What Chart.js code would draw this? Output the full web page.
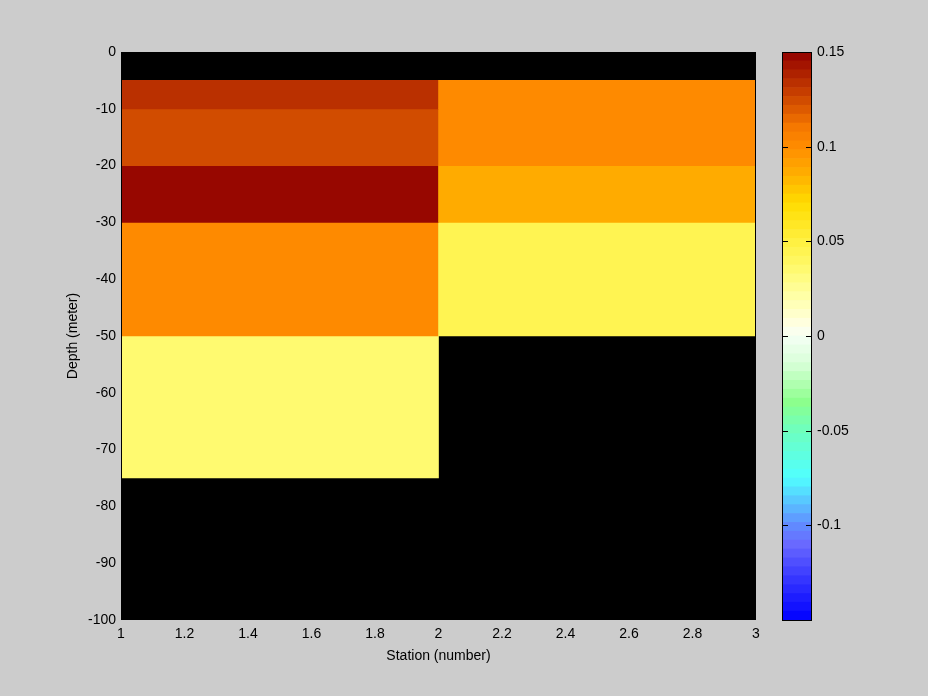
<!DOCTYPE html>
<html><head><meta charset="utf-8">
<script src="https://cdn.jsdelivr.net/npm/chart.js@4.4.0/dist/chart.umd.min.js"></script>
<style>
html,body{margin:0;padding:0;background:#cccccc;}
#wrap{position:relative;width:928px;height:696px;}
canvas{position:absolute;left:0;top:0;}
</style></head><body>
<div id="wrap"><canvas id="main" width="928" height="696"></canvas><canvas id="cbar" width="928" height="696"></canvas></div>
<script>
// ---- data ----
const stationEdges = [1, 2, 3];
const depthEdges = [0, -5, -10, -20, -30, -50, -75, -100];
const station1 = [null, 0.132, 0.122, 0.148, 0.102, 0.035, null];
const station2 = [null, 0.100, 0.100, 0.087, 0.046, null, null];
const xTicks = [1, 1.2, 1.4, 1.6, 1.8, 2, 2.2, 2.4, 2.6, 2.8, 3];
const yTicks = [0, -10, -20, -30, -40, -50, -60, -70, -80, -90, -100];
const cbarTicks = [0.15, 0.1, 0.05, 0, -0.05, -0.1];
const cmin = -0.15, cmax = 0.15, nColors = 64;
const xTitle = 'Station (number)';
const yTitle = 'Depth (meter)';
// colormap anchors (value -> rgb)
const cmapValues = [-0.15, -0.13, -0.11, -0.1, -0.075, -0.05, -0.035, -0.015, 0, 0.005, 0.02, 0.035, 0.05, 0.07, 0.085, 0.1, 0.11, 0.13, 0.15];
const cmapColors = [[0,0,255],[50,50,255],[105,105,255],[96,140,255],[80,255,255],[110,255,190],[140,255,140],[215,255,215],[245,255,245],[255,255,230],[255,255,170],[255,250,112],[255,240,64],[255,220,0],[255,175,0],[255,140,0],[245,120,0],[195,58,0],[145,0,0]];

function interp(v) {
  if (v <= cmapValues[0]) return cmapColors[0];
  for (let i = 1; i < cmapValues.length; i++) {
    if (v <= cmapValues[i]) {
      const f = (v - cmapValues[i-1]) / (cmapValues[i] - cmapValues[i-1]);
      return cmapColors[i-1].map((c, k) => Math.round(c + f * (cmapColors[i][k] - c)));
    }
  }
  return cmapColors[cmapColors.length - 1];
}
const step = (cmax - cmin) / nColors;
const bands = Array.from({length: nColors}, (_, i) => {
  const c = interp(cmin + (i + 0.5) * step);
  return {lo: cmin + i * step, hi: cmin + (i + 1) * step, color: `rgb(${c[0]},${c[1]},${c[2]})`};
});
function colorFor(v) {
  let i = Math.floor((v - cmin) / step);
  i = Math.max(0, Math.min(nColors - 1, i));
  return bands[i].color;
}

const FONT = {family: '"Liberation Sans", Arial, Helvetica, sans-serif', size: 14};
Chart.defaults.font = FONT;
Chart.defaults.color = '#000';

const series = [station1, station2];
const labels = stationEdges.slice(0, -1).map((s, i) => s + '-' + stationEdges[i+1]);
const datasets = depthEdges.slice(0, -1).map((d, r) => ({
  data: series.map(s => s[r] == null ? null : [depthEdges[r], depthEdges[r+1]]),
  backgroundColor: series.map(s => s[r] == null ? '#000' : colorFor(s[r])),
  borderWidth: 0
}));

const mainPlugin = {
  id: 'mainPlugin',
  beforeDatasetsDraw(chart) {
    const {ctx, chartArea: a} = chart;
    ctx.save(); ctx.fillStyle = '#000'; ctx.fillRect(a.left, a.top, a.right - a.left, a.bottom - a.top); ctx.restore();
  },
  afterDatasetsDraw(chart) {
    const {ctx, chartArea: a} = chart;
    ctx.save(); ctx.strokeStyle = '#000'; ctx.lineWidth = 1;
    ctx.strokeRect(a.left + 0.5, a.top + 0.5, a.right - a.left - 1, a.bottom - a.top - 1);
    ctx.restore();
  }
};

const noGrid = {display: false, drawTicks: false, tickLength: 0};

new Chart(document.getElementById('main'), {
  type: 'bar',
  data: {labels, datasets},
  plugins: [mainPlugin],
  options: {
    responsive: false, animation: false,
    layout: {padding: {left: 0, top: 52, right: 172, bottom: 0}},
    plugins: {legend: {display: false}, tooltip: {enabled: false}},
    datasets: {bar: {grouped: false, categoryPercentage: 1, barPercentage: 1}},
    scales: {
      x: {type: 'category', display: false, offset: true},
      xt: {type: 'linear', position: 'bottom', min: 1, max: 3, offset: false,
        grid: noGrid, border: {display: false},
        afterBuildTicks: s => { s.ticks = xTicks.map(v => ({value: v})); },
        afterFit: s => { s.height = 76; },
        ticks: {padding: 6, maxRotation: 0, autoSkip: false, callback: v => String(v)},
        title: {display: true, text: xTitle, font: FONT, padding: {top: 0, bottom: 31}}
      },
      y: {type: 'linear', position: 'left', min: -100, max: 0,
        grid: noGrid, border: {display: false},
        afterBuildTicks: s => { s.ticks = yTicks.map(v => ({value: v})); },
        afterFit: s => { s.width = 121; },
        ticks: {padding: 5, autoSkip: false, callback: v => String(v)},
        title: {display: true, text: yTitle, font: FONT, padding: {top: 65, bottom: 0}}
      }
    }
  }
});

const cbarPlugin = {
  id: 'cbarPlugin',
  afterDatasetsDraw(chart) {
    const {ctx, chartArea: a} = chart;
    const ys = chart.scales.y;
    ctx.save(); ctx.strokeStyle = '#000'; ctx.lineWidth = 1;
    cbarTicks.forEach(v => {
      const y = Math.round(ys.getPixelForValue(v)) + 0.5;
      ctx.beginPath();
      ctx.moveTo(a.left, y); ctx.lineTo(a.left + 6, y);
      ctx.moveTo(a.right - 6, y); ctx.lineTo(a.right, y);
      ctx.stroke();
    });
    ctx.strokeRect(a.left + 0.5, a.top + 0.5, a.right - a.left - 1, a.bottom - a.top);
    ctx.restore();
  }
};

new Chart(document.getElementById('cbar'), {
  type: 'bar',
  data: {labels: ['c'], datasets: bands.map(b => ({data: [[b.lo, b.hi]], backgroundColor: b.color, borderWidth: 0}))},
  plugins: [cbarPlugin],
  options: {
    responsive: false, animation: false,
    layout: {padding: {left: 782, top: 52, right: 0, bottom: 76}},
    plugins: {legend: {display: false}, tooltip: {enabled: false}},
    datasets: {bar: {grouped: false, categoryPercentage: 1, barPercentage: 1}},
    scales: {
      x: {type: 'category', display: false, offset: true},
      y: {type: 'linear', position: 'right', min: cmin, max: cmax,
        grid: noGrid, border: {display: false},
        afterBuildTicks: s => { s.ticks = cbarTicks.map(v => ({value: v})); },
        afterFit: s => { s.width = 116; },
        ticks: {padding: 5, autoSkip: false, callback: v => String(v)}
      }
    }
  }
});
</script>
</body></html>
